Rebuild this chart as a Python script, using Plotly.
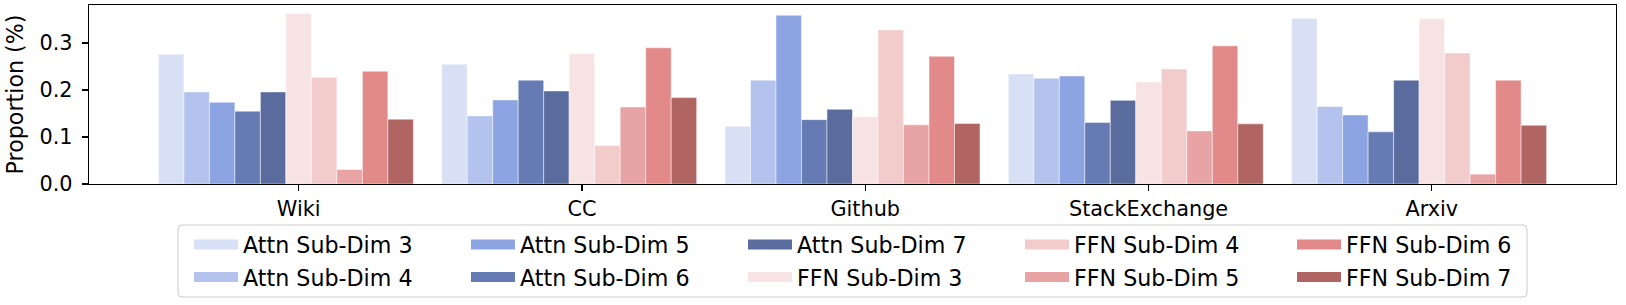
import plotly.graph_objects as go

# ---------------- data ----------------
categories = ["Wiki", "CC", "Github", "StackExchange", "Arxiv"]

attn_sub_dim_3 = [0.276, 0.255, 0.123, 0.234, 0.352]
attn_sub_dim_4 = [0.196, 0.145, 0.221, 0.225, 0.165]
attn_sub_dim_5 = [0.174, 0.179, 0.359, 0.230, 0.147]
attn_sub_dim_6 = [0.155, 0.221, 0.137, 0.131, 0.111]
attn_sub_dim_7 = [0.196, 0.198, 0.159, 0.178, 0.221]
ffn_sub_dim_3 = [0.363, 0.278, 0.143, 0.217, 0.352]
ffn_sub_dim_4 = [0.227, 0.082, 0.328, 0.245, 0.279]
ffn_sub_dim_5 = [0.031, 0.164, 0.126, 0.113, 0.021]
ffn_sub_dim_6 = [0.240, 0.290, 0.272, 0.294, 0.221]
ffn_sub_dim_7 = [0.138, 0.184, 0.129, 0.128, 0.125]

series_names = [
    "Attn Sub-Dim 3", "Attn Sub-Dim 4", "Attn Sub-Dim 5", "Attn Sub-Dim 6", "Attn Sub-Dim 7",
    "FFN Sub-Dim 3", "FFN Sub-Dim 4", "FFN Sub-Dim 5", "FFN Sub-Dim 6", "FFN Sub-Dim 7",
]
series_values = [
    attn_sub_dim_3, attn_sub_dim_4, attn_sub_dim_5, attn_sub_dim_6, attn_sub_dim_7,
    ffn_sub_dim_3, ffn_sub_dim_4, ffn_sub_dim_5, ffn_sub_dim_6, ffn_sub_dim_7,
]
y_ticks = [0.0, 0.1, 0.2, 0.3]

# ---------------- style ----------------
colors = [
    "#d8e0f5", "#b3c3ed", "#8ca5e2", "#667bb4", "#5a6c9e",
    "#f8e3e4", "#f2cbcb", "#e8a4a4", "#e18a89", "#b06563",
]
FONT = "DejaVu Sans"
TICK_SIZE = 20.8
LABEL_SIZE = 22.2
W, H = 1626, 305
ML, MR, MT, MB = 89, 10, 5, 121
PW, PH = W - ML - MR, H - MT - MB
BAR_W = 0.09


def px_x(p):
    return (p - ML) / PW


def px_y(p):
    return (H - MB - p) / PH


fig = go.Figure()
xs = list(range(len(categories)))
for i, (name, vals) in enumerate(zip(series_names, series_values)):
    fig.add_trace(go.Bar(
        x=xs, y=vals, name=name,
        width=BAR_W, offset=(i - 5) * BAR_W - BAR_W / 2,
        marker=dict(color=colors[i], line=dict(color="rgba(255,255,255,0.6)", width=0.8)),
        showlegend=False,
    ))

# legend entries (column-major, 5 columns x 2 rows)
col_px = [187, 464, 741, 1018, 1290]
row_px = [244.5, 277.0]
ITEM_W = 44
legend_layouts = {}
for i, name in enumerate(series_names):
    lname = "legend" if i == 0 else f"legend{i + 1}"
    c, r = divmod(i, 2)
    fig.add_trace(go.Scatter(
        x=[None], y=[None], mode="lines", name=name,
        line=dict(color=colors[i], width=15),
        legend=lname, hoverinfo="skip",
    ))
    legend_layouts[lname] = dict(
        x=px_x(col_px[c] + 2), y=px_y(row_px[r]),
        xref="paper", yref="paper", xanchor="left", yanchor="middle",
        bgcolor="rgba(0,0,0,0)", borderwidth=0, itemwidth=ITEM_W,
        font=dict(family=FONT, size=LABEL_SIZE, color="black"),
    )

# legend frame (rounded rectangle)
fx0, fx1, fy0, fy1, rad = 178, 1527, 225, 297, 4
x0, x1 = px_x(fx0), px_x(fx1)
y0, y1 = px_y(fy0), px_y(fy1)
dx, dy = rad / PW, rad / PH
path = (
    f"M{x0 + dx},{y0} L{x1 - dx},{y0} Q{x1},{y0} {x1},{y0 - dy} "
    f"L{x1},{y1 + dy} Q{x1},{y1} {x1 - dx},{y1} "
    f"L{x0 + dx},{y1} Q{x0},{y1} {x0},{y1 + dy} "
    f"L{x0},{y0 - dy} Q{x0},{y0} {x0 + dx},{y0} Z"
)
fig.add_shape(type="path", path=path, xref="paper", yref="paper",
              line=dict(color="#cccccc", width=1), fillcolor="rgba(255,255,255,0.8)",
              layer="below")

axis_common = dict(
    showline=True, linecolor="black", linewidth=1.3, mirror=True,
    ticks="outside", ticklen=6, tickwidth=1.2, tickcolor="black",
    showgrid=False, zeroline=False,
    tickfont=dict(family=FONT, size=TICK_SIZE, color="black"),
)

fig.update_layout(
    width=W, height=H,
    margin=dict(l=ML, r=MR, t=MT, b=MB, autoexpand=False),
    paper_bgcolor="white", plot_bgcolor="white",
    barmode="overlay",
    font=dict(family=FONT, size=TICK_SIZE, color="black"),
    xaxis=dict(range=[-0.74, 4.65], tickvals=xs, ticktext=categories, **axis_common),
    yaxis=dict(range=[0, 0.381], tickvals=y_ticks, tickformat=".1f", ticklabelstandoff=5,
               title=dict(text="Proportion (%)", font=dict(family=FONT, size=LABEL_SIZE), standoff=9),
               **axis_common),
    **legend_layouts,
)

fig.write_html(
    "out.html",
    config={"displayModeBar": False, "staticPlot": True},
    post_script="document.body.style.margin='0';document.body.style.overflow='hidden';",
)
